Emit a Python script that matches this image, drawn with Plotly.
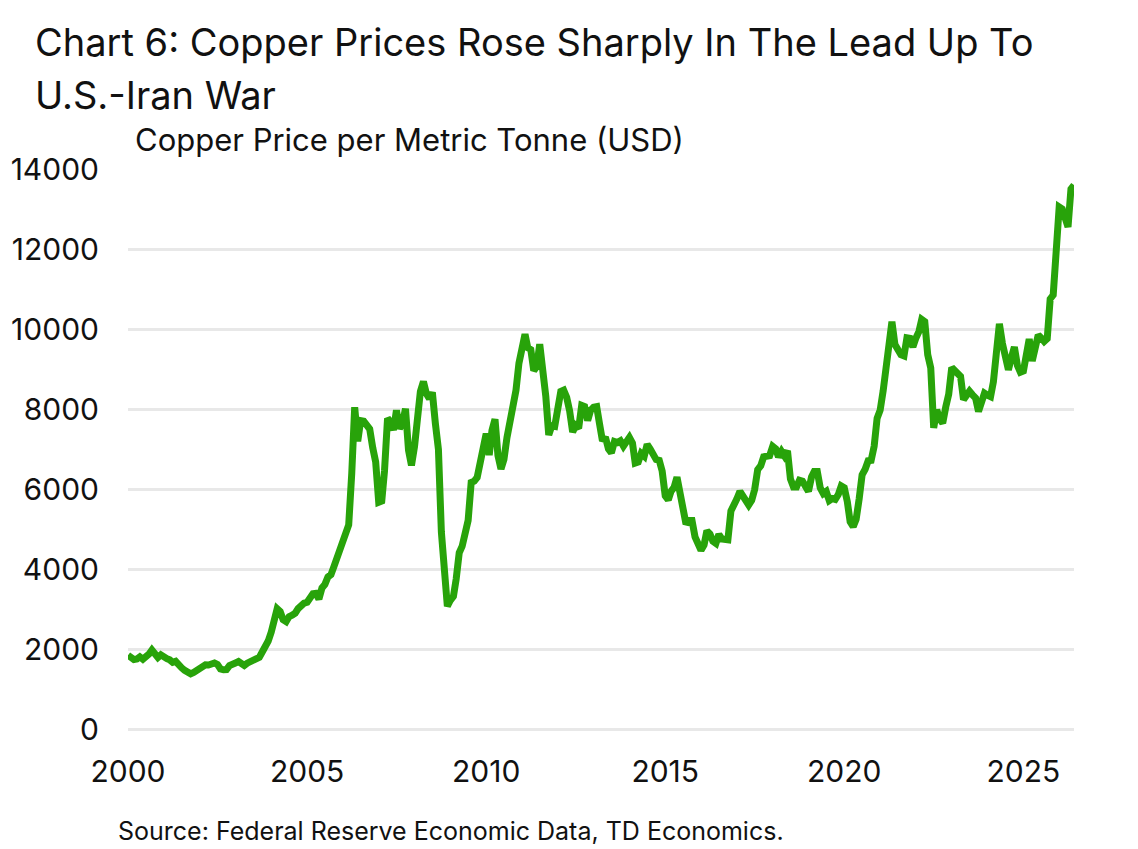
import plotly.graph_objects as go

# ---------------- data ----------------
start_year = 2000
copper_2000 = [1845, 1800, 1735, 1750, 1805, 1745, 1795, 1870, 1975, 1875, 1790, 1855]
copper_2001 = [1780, 1760, 1730, 1665, 1690, 1580, 1530, 1465, 1435, 1380, 1415, 1470]
copper_2002 = [1500, 1565, 1605, 1600, 1610, 1650, 1615, 1500, 1480, 1485, 1585, 1600]
copper_2003 = [1650, 1685, 1660, 1590, 1645, 1685, 1710, 1760, 1790, 1925, 2055, 2200]
copper_2004 = [2425, 2760, 3005, 2935, 2735, 2685, 2810, 2845, 2895, 3010, 3115, 3145]
copper_2005 = [3170, 3255, 3380, 3390, 3250, 3525, 3615, 3800, 3860, 4060, 4270, 4575]
copper_2006 = [4735, 4980, 5105, 6390, 8045, 7195, 7710, 7695, 7600, 7500, 7030, 6675]
copper_2007 = [5670, 5700, 6450, 7765, 7680, 7475, 7970, 7510, 7650, 8005, 6965, 6590]
copper_2008 = [7060, 7890, 8440, 8685, 8385, 8260, 8415, 7635, 6990, 4925, 3715, 3070]
copper_2009 = [3220, 3315, 3750, 4405, 4570, 5015, 5215, 6165, 6195, 6290, 6675, 6980]
copper_2010 = [7385, 6850, 7465, 7745, 6840, 6500, 6735, 7285, 7710, 8290, 8470, 9145]
copper_2011 = [9555, 9870, 9530, 9485, 8960, 9065, 9620, 9040, 8315, 7350, 7580, 7565]
copper_2012 = [8040, 8440, 8470, 8290, 7955, 7425, 7585, 7515, 8090, 8060, 7710, 7965]
copper_2013 = [8045, 8060, 7645, 7205, 7295, 7000, 6905, 7185, 7160, 7205, 7070, 7215]
copper_2014 = [7290, 7150, 6650, 6675, 6890, 6820, 7115, 7000, 6870, 6735, 6715, 6445]
copper_2015 = [5830, 5730, 5940, 6040, 6295, 5835, 5455, 5125, 5215, 5215, 4800, 4640]
copper_2016 = [4470, 4600, 4955, 4875, 4695, 4640, 4865, 4750, 4720, 4730, 5450, 5660]
copper_2017 = [5755, 5940, 5825, 5685, 5600, 5720, 5985, 6485, 6580, 6805, 6825, 6835]
copper_2018 = [7065, 7005, 6800, 6940, 6825, 6955, 6250, 6050, 6050, 6220, 6195, 6075]
copper_2019 = [5940, 6300, 6440, 6440, 6030, 5885, 5940, 5710, 5760, 5740, 5860, 6075]
copper_2020 = [6030, 5685, 5180, 5060, 5240, 5755, 6355, 6495, 6705, 6715, 7070, 7770]
copper_2021 = [7970, 8460, 9005, 9335, 10185, 9610, 9435, 9355, 9325, 9780, 9765, 9550]
copper_2022 = [9775, 9940, 10240, 10185, 9360, 9025, 7530, 7980, 7745, 7650, 8050, 8365]
copper_2023 = [9035, 8955, 8840, 8815, 8235, 8385, 8445, 8355, 8275, 7940, 8165, 8395]
copper_2024 = [8345, 8310, 8680, 9440, 10130, 9640, 9370, 8980, 9290, 9550, 9085, 8920]
copper_2025 = [8950, 9300, 9750, 9200, 9500, 9850, 9780, 9690, 9760, 10750, 10850, 11950]
copper_2026 = [13050, 13000, 12800, 12550, 13500, 13600]

yearly = [copper_2000, copper_2001, copper_2002, copper_2003, copper_2004, copper_2005,
          copper_2006, copper_2007, copper_2008, copper_2009, copper_2010, copper_2011,
          copper_2012, copper_2013, copper_2014, copper_2015, copper_2016, copper_2017,
          copper_2018, copper_2019, copper_2020, copper_2021, copper_2022, copper_2023,
          copper_2024, copper_2025, copper_2026]

dates, prices = [], []
for i, vals in enumerate(yearly):
    for m, v in enumerate(vals):
        dates.append(f"{start_year + i}-{m + 1:02d}-01")
        prices.append(v)

x_tick_vals = ["2000-01-01", "2005-01-01", "2010-01-01", "2015-01-01", "2020-01-01", "2025-01-01"]
x_tick_text = ["2000", "2005", "2010", "2015", "2020", "2025"]
y_tick_vals = [0, 2000, 4000, 6000, 8000, 10000, 12000, 14000]

title_line1 = "Chart 6: Copper Prices Rose Sharply In The Lead Up To"
title_line2 = "U.S.-Iran War"
subtitle = "Copper Price per Metric Tonne (USD)"
source = "Source: Federal Reserve Economic Data, TD Economics."

# ---------------- layout ----------------
W, H = 1138, 849
L, R, T, B = 128, 64, 169, 120
FONT = "Inter"
GREEN = "#28A30A"


def px_x(px):
    return (px - L) / (W - L - R)


def px_y(py):
    return (H - B - py) / (H - T - B)


fig = go.Figure()
fig.add_trace(go.Scatter(
    x=dates, y=prices, mode="lines",
    line=dict(color=GREEN, width=7),
    hoverinfo="x+y", showlegend=False,
))

fig.update_layout(
    width=W, height=H,
    margin=dict(l=L, r=R, t=T, b=B, pad=0),
    paper_bgcolor="white", plot_bgcolor="white",
    font=dict(family=FONT, color="#111111"),
    showlegend=False,
    xaxis=dict(
        type="date",
        range=[dates[0], dates[-1]],
        tickvals=x_tick_vals, ticktext=x_tick_text,
        showgrid=False, zeroline=False, showline=False,
        ticks="", ticklabelstandoff=22,
        tickfont=dict(family=FONT, size=30, color="#111111"),
    ),
    yaxis=dict(
        range=[0, 14000],
        tickvals=y_tick_vals, tickformat="d",
        showgrid=True, gridcolor="#E8E8E8", gridwidth=2.5,
        zeroline=True, zerolinecolor="#E8E8E8", zerolinewidth=2.5,
        showline=False, ticks="", ticklabelstandoff=28,
        tickfont=dict(family=FONT, size=30, color="#111111"),
    ),
)

annotations = [
    dict(text=title_line1, x=px_x(33), y=px_y(42), xanchor="left", yanchor="middle",
         font=dict(size=38, color="#111111", family=FONT)),
    dict(text=title_line2, x=px_x(33), y=px_y(95), xanchor="left", yanchor="middle",
         font=dict(size=38, color="#111111", family=FONT)),
    dict(text=subtitle, x=px_x(133), y=px_y(140), xanchor="left", yanchor="middle",
         font=dict(size=31, color="#111111", family=FONT)),
    dict(text=source, x=px_x(116), y=px_y(831), xanchor="left", yanchor="middle",
         font=dict(size=25, color="#111111", family=FONT)),
]
for a in annotations:
    a.update(xref="paper", yref="paper", showarrow=False, align="left")
fig.update_layout(annotations=annotations)

fig.write_html("out.html")
